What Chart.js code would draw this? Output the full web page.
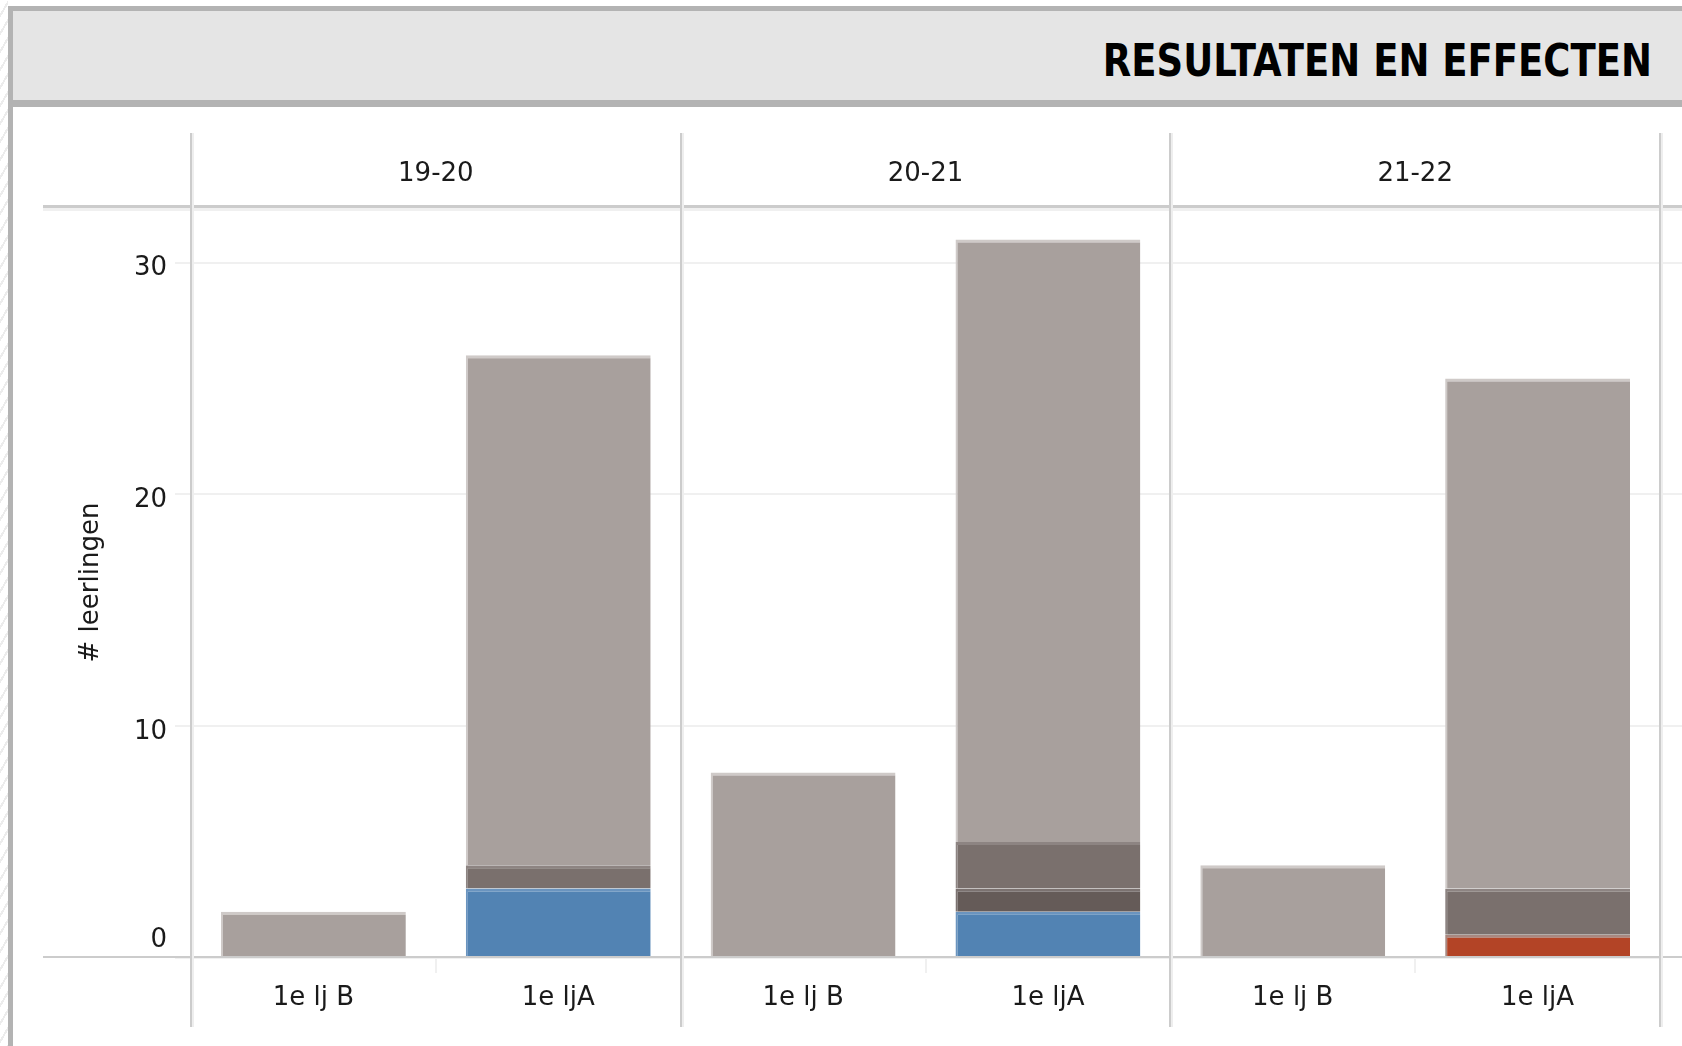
<!DOCTYPE html>
<html>
<head>
<meta charset="utf-8">
<script src="https://cdn.jsdelivr.net/npm/chart.js@4/dist/chart.umd.min.js"></script>
<style>
html,body{margin:0;padding:0;background:#fff;overflow:hidden;width:1682px;height:1046px;position:relative;}
#stripes{position:absolute;left:0;top:0;width:8px;height:1046px;background:repeating-linear-gradient(120deg,#ffffff 0 7px,#ececec 7px 9px);}
#frameL{position:absolute;left:8px;top:6px;width:5px;height:1040px;background:#b3b3b3;}
#frameT{position:absolute;left:8px;top:6px;right:0;height:5px;background:#b3b3b3;}
#header{position:absolute;left:13px;top:11px;right:0;height:89px;background:#e5e5e5;}
#headerB{position:absolute;left:13px;top:100px;right:0;height:7px;background:#b3b3b3;}
#title{position:absolute;right:30px;top:42px;font:bold 37px "DejaVu Sans";line-height:37px;transform:scaleY(1.22);transform-origin:right center;color:#000;white-space:nowrap;}
#c{position:absolute;left:0;top:0;z-index:2;}
</style>
</head>
<body>
<div id="stripes"></div>
<div id="frameL"></div>
<div id="frameT"></div>
<div id="header"></div>
<div id="headerB"></div>
<div id="title">RESULTATEN EN EFFECTEN</div>
<canvas id="c" width="1682" height="1046"></canvas>
<script>
// ---- data ----
const groups = ['19-20', '20-21', '21-22'];
const categories = ['1e lj B', '1e ljA', '1e lj B', '1e ljA', '1e lj B', '1e ljA'];
const yTicks = [0, 10, 20, 30];
const yTitle = '# leerlingen';
const blueSeries   = [null, 3, null, 2, null, null];
const redSeries    = [null, null, null, null, null, 1];
const darkerSeries = [null, null, null, 1, null, null];
const darkSeries   = [null, 1, null, 2, null, 2];
const lightSeries  = [2, 22, 8, 26, 4, 22];

const FONT = 'DejaVu Sans';
const TXT = '#1a1a1a';

function ds(data, fill, edge) {
  return {
    data: data,
    backgroundColor: fill,
    borderColor: edge,
    borderWidth: {top: 3, left: 2, right: 0, bottom: 0},
    borderSkipped: false,
    barPercentage: 0.755,
    categoryPercentage: 1.0
  };
}

const framePlugin = {
  id: 'framePlugin',
  afterDatasetsDraw(chart) {
    const ctx = chart.ctx;
    const a = chart.chartArea;
    const W = chart.width;
    const y = chart.scales.y;
    const n = categories.length;
    const cw = a.width / n;
    ctx.save();
    // gridline extension beyond last pane
    ctx.fillStyle = '#f0f0f0';
    yTicks.forEach(v => {
      if (v === 0) return;
      const py = Math.round(y.getPixelForValue(v));
      ctx.fillRect(a.right, py - 1, W - a.right, 2);
    });
    // header line
    ctx.fillStyle = '#cccccc';
    ctx.fillRect(43, a.top - 2, W - 43, 3);
    ctx.fillStyle = '#f0f0f0';
    ctx.fillRect(43, a.top + 1, W - 43, 3);
    // axis line
    ctx.fillStyle = '#cccccc';
    ctx.fillRect(43, a.bottom - 2, W - 43, 2);
    // pane dividers
    const per = categories.length / groups.length;
    for (let g = 0; g <= groups.length; g++) {
      const px = Math.round(a.left + cw * per * g);
      ctx.fillStyle = '#cccccc';
      ctx.fillRect(px - 1, 133, 2, 1027 - 133);
      ctx.fillStyle = '#eeeeee';
      ctx.fillRect(px + 1, 133, 2, 1027 - 133);
    }
    // group headers
    ctx.fillStyle = TXT;
    ctx.font = '26px "' + FONT + '"';
    ctx.textAlign = 'center';
    ctx.textBaseline = 'middle';
    groups.forEach((gname, g) => {
      const cx = a.left + cw * per * (g + 0.5);
      ctx.fillText(gname, cx, 174);
    });
    ctx.restore();
  }
};

new Chart(document.getElementById('c'), {
  type: 'bar',
  data: {
    labels: categories,
    datasets: [
      ds(blueSeries, '#5283b3', '#6a94bf'),
      ds(redSeries, '#b34426', '#a88880'),
      ds(darkerSeries, '#655b58', '#7b7270'),
      ds(darkSeries, '#7a706d', '#8d8482'),
      ds(lightSeries, '#a8a09d', '#cfcac8')
    ]
  },
  options: {
    responsive: false,
    animation: false,
    devicePixelRatio: 1,
    layout: {padding: {top: 207, left: 0, right: 22, bottom: 0}},
    plugins: {legend: {display: false}, tooltip: {enabled: false}},
    scales: {
      x: {
        stacked: true,
        border: {display: false},
        grid: {offset: true, drawOnChartArea: false, drawTicks: true, tickLength: 15, color: '#f0f0f0', lineWidth: 2},
        ticks: {font: {family: FONT, size: 26}, color: TXT, padding: 10, maxRotation: 0, autoSkip: false},
        afterFit(s) { s.height = 88; }
      },
      y: {
        stacked: true,
        min: 0,
        max: 32.4,
        border: {display: false},
        grid: {color: '#f0f0f0', lineWidth: 2, drawTicks: true, tickLength: 16},
        afterBuildTicks(s) { s.ticks = yTicks.map(v => ({value: v})); },
        ticks: {
          font: (c) => ({family: FONT, size: 26, lineHeight: (c.tick && c.tick.value === 0) ? 1.83 : 1.2}),
          color: TXT,
          padding: 8,
          labelOffset: 6,
          callback: (v) => v === 0 ? ['0', ''] : String(v)
        },
        title: {display: true, text: yTitle, font: {family: FONT, size: 26}, color: TXT, padding: {top: 76, bottom: 0}},
        afterFit(s) { s.width = 191; }
      }
    }
  },
  plugins: [framePlugin]
});
</script>
</body>
</html>
